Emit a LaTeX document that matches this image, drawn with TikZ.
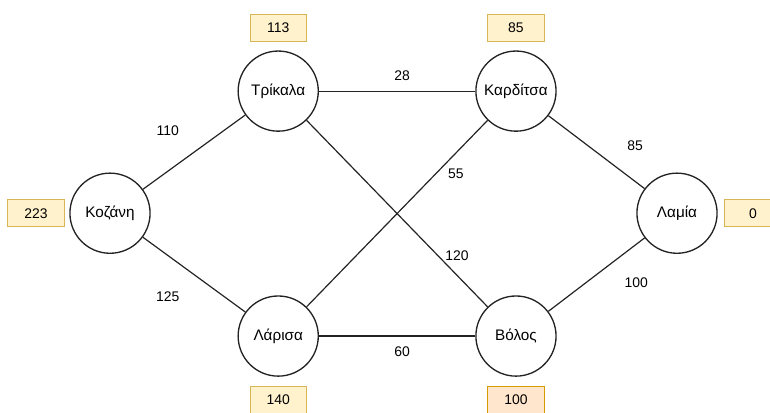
\documentclass[tikz,border=0pt]{standalone}
\usepackage{fontspec}
\setmainfont{Liberation Sans}
\usepackage{tikz}
\usepackage{xcolor}
\definecolor{hfill}{RGB}{255, 242, 204}
\definecolor{hline}{RGB}{214, 182, 86}
\definecolor{goalfill}{RGB}{255, 230, 204}
\definecolor{goalline}{RGB}{215, 155, 0}
\definecolor{edgegray}{RGB}{35, 35, 35}

\tikzset{
    city/.style={circle, draw=edgegray, line width=1pt, minimum size=2.12cm, inner sep=0pt, font=\fontsize{11.5}{13}\selectfont},
    hbox/.style={draw=hline, fill=hfill, line width=0.8pt, minimum width=1.49cm, minimum height=0.72cm, inner sep=0pt, font=\fontsize{10.5}{12}\selectfont},
    dist/.style={inner sep=1pt, font=\fontsize{10.5}{12}\selectfont},
    road/.style={edgegray, line width=0.9pt}
}

\begin{document}
\begin{tikzpicture}
    \useasboundingbox (0,0) rectangle (20.37,-10.90);

    % Cities
    \node[city] (koz)  at (2.91,-5.64)  {Κοζάνη};
    \node[city] (trik) at (7.36,-2.41)  {Τρίκαλα};
    \node[city] (kard) at (13.65,-2.41) {Καρδίτσα};
    \node[city] (lar)  at (7.36,-8.89)  {Λάρισα};
    \node[city] (vol)  at (13.65,-8.89) {Βόλος};
    \node[city] (lam)  at (17.91,-5.64) {Λαμία};

    % Heuristic values
    \node[hbox] (h-koz)  at (0.95,-5.64)  {223};
    \node[hbox] (h-trik) at (7.36,-0.74)  {113};
    \node[hbox] (h-kard) at (13.65,-0.74) {85};
    \node[hbox] (h-lar)  at (7.36,-10.58) {140};
    \node[hbox, draw=goalline, fill=goalfill] (h-vol) at (13.65,-10.58) {100};
    \node[hbox] (h-lam)  at (19.92,-5.64) {0};

    % Roads
    \draw[road] (koz) -- (trik);
    \draw[road] (koz) -- (lar);
    \draw[road] (trik) -- (kard);
    \draw[road] (trik) -- (vol);
    \draw[road] (lar) -- (kard);
    \draw[road] (lar) -- (vol);
    \draw[road] (kard) -- (lam);
    \draw[road] (vol) -- (lam);

    % Distances
    \node[dist] (d-koz-trik)  at (4.44,-3.47)  {110};
    \node[dist] (d-koz-lar)   at (4.44,-7.86)  {125};
    \node[dist] (d-trik-kard) at (10.64,-2.01) {28};
    \node[dist] (d-lar-kard)  at (12.06,-4.60) {55};
    \node[dist] (d-trik-vol)  at (12.09,-6.77) {120};
    \node[dist] (d-kard-lam)  at (16.80,-3.86) {85};
    \node[dist] (d-vol-lam)   at (16.83,-7.49) {100};
    \node[dist] (d-lar-vol)   at (10.64,-9.31) {60};
\end{tikzpicture}
\end{document}
